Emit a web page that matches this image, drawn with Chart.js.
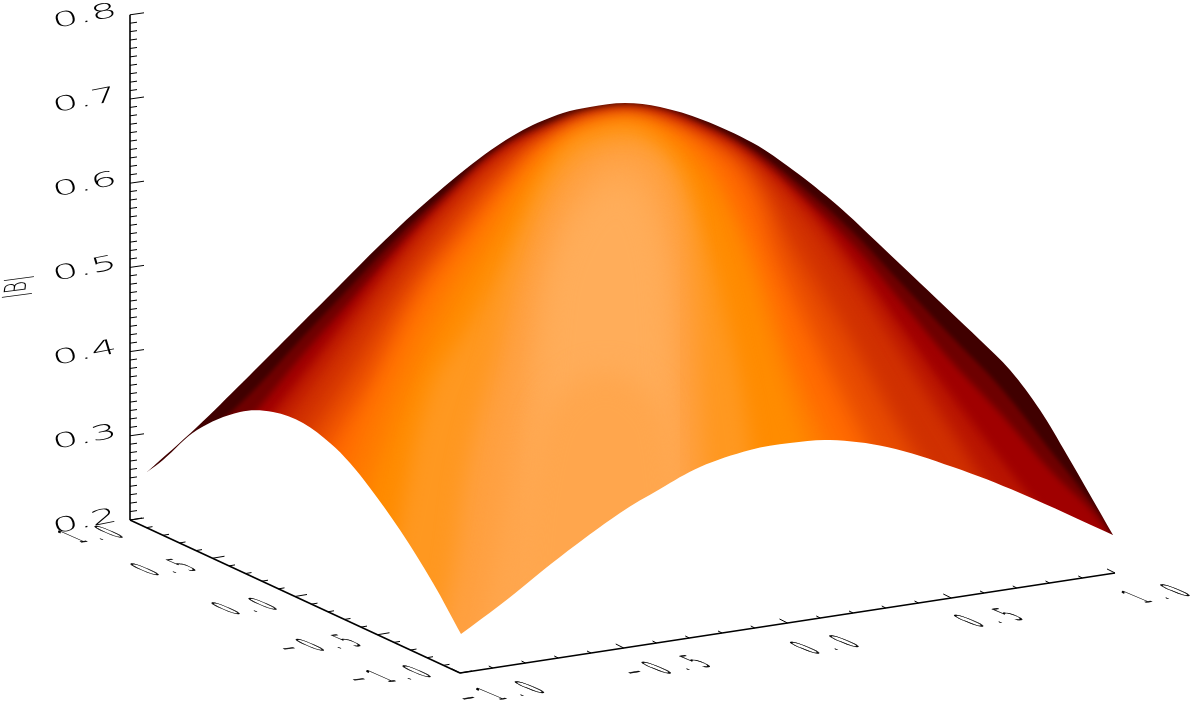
<!DOCTYPE html>
<html>
<head>
<meta charset="utf-8">
<title>|B|</title>
<script src="https://cdn.jsdelivr.net/npm/chart.js@4/dist/chart.umd.min.js"></script>
<style>
  html, body { margin: 0; padding: 0; background: #fff; }
  canvas { display: block; }
</style>
</head>
<body>
<canvas id="surfaceChart" width="1200" height="711"></canvas>
<script>
// axis labels
const zTicks = ['0.2', '0.3', '0.4', '0.5', '0.6', '0.7', '0.8'];
const floorLeftLabels = ['1.0', '0.5', '0.0', '\u22120.5', '\u22121.0'];
const floorRightLabels = ['\u22121.0', '\u22120.5', '0.0', '0.5', '1.0'];

// outline of the surface, x is the horizontal view position, y is |B|
const topEdgeX = [147, 197, 243, 290, 340, 380, 423, 480, 523, 563, 590, 625, 660, 703, 753, 793, 837, 880, 920, 980, 1010, 1040, 1067, 1113];
const topEdgeB = [.257, .3105, .3639, .4197, .4791, .5266, .5741, .6299, .6632, .6834, .6905, .6952, .6905, .6751, .6477, .6157, .5741, .5266, .4815, .4138, .3781, .3306, .2772, .1822];
const lowLeftX = [147, 163, 197, 240, 273, 303, 330, 350, 370, 400, 433, 461];
const lowLeftB = [.257, .2713, .3069, .3283, .3283, .3152, .2914, .2677, .238, .1881, .1252, .0646];
const lowRightX = [461, 500, 560, 620, 660, 700, 750, 790, 830, 887, 953, 1020, 1113];
const lowRightB = [.0646, .099, .1561, .2083, .2368, .2629, .2831, .2914, .295, .2867, .2629, .2321, .1822];

// shading contours
const gridX = [150, 200, 250, 300, 350, 400, 450, 500, 550, 600, 650, 700, 750, 800, 850, 900, 950, 1000, 1050, 1100, 1125];
const shade05 = [.2416, .295, .3496, .4138, .4767, .5397, .5931, .6418, .6715, .6893, .6905, .6715, .6418, .5979, .5456, .4827, .4197, .358, .2831, .2059, .1525];
const shade10 = [.2238, .2594, .3211, .3924, .4601, .5266, .5848, .6371, .6656, .6846, .6869, .6667, .6335, .586, .5314, .4613, .39, .3271, .2594, .1988, .1406];
const shade12 = [.1762, .2238, .295, .3686, .4435, .5171, .5812, .6347, .6632, .6822, .6834, .6632, .6311, .5789, .5112, .4316, .3508, .2724, .2, .1406, .105];
const shade15 = [.0812, .1762, .2653, .3449, .4257, .5064, .5765, .6323, .6608, .6798, .6798, .6584, .6276, .5705, .491, .4019, .3105, .2178, .1406, .0812, .0456];
const shade17 = [.0337, .105, .2036, .2903, .3781, .4708, .5504, .6157, .6561, .6774, .6762, .6525, .6133, .5147, .4138, .3069, .2119, .1287, .0575, -.0019, -.0138];
const shade20X = [290, 330, 370, 417, 463, 503, 547, 613, 670, 720, 753, 777, 820, 853, 900, 950, 1000, 1060];
const shade20 = [.2, .2914, .3663, .4696, .5409, .6002, .6513, .6786, .6679, .6394, .5919, .5124, .4019, .3223, .2119, .1169, .0456, -.0138];
const shade25X = [320, 350, 390, 430, 470, 510, 550, 613, 660, 705, 737, 765, 795, 825, 870, 920];
const shade25 = [.1762, .2713, .3758, .466, .5325, .5919, .6418, .6751, .6667, .6276, .5622, .485, .3841, .3069, .1881, -.0019];
const shade30X = [350, 370, 407, 450, 490, 527, 563, 613, 653, 693, 720, 747, 777, 800, 840, 900];
const shade30 = [.1822, .2392, .3544, .4577, .5325, .6038, .6477, .6715, .6667, .6276, .58, .5052, .3936, .3152, .1881, -.0019];
const shade35X = [370, 400, 430, 470, 513, 563, 613, 645, 680, 705, 722, 747, 775];
const shade35 = [-.0019, .2, .3544, .434, .5325, .6394, .6656, .6572, .6097, .5325, .4613, .3152, -.0019];
const shade40X = [420, 450, 470, 497, 523, 563, 613, 653, 680, 695, 700, 705, 720];
const shade40 = [-.0019, .1169, .2748, .3936, .5124, .6121, .6477, .6394, .5919, .4732, .3425, .2238, -.0019];
const shade45X = [470, 500, 525, 550, 580, 613, 645, 665, 675, 680, 690];
const shade45 = [-.0019, .2, .39, .5088, .5919, .6276, .6157, .5563, .4375, .2475, -.0019];
const shade50X = [520, 545, 565, 600, 630, 655, 668, 680];
const shade50 = [-.0019, .4494, .5385, .5919, .5979, .5504, .4494, -.0019];
const shade55X = [510, 540, 590, 640, 670, 690];
const shade55 = [-.0019, .3069, .3722, .3603, .3069, -.0019];

// outer contour first
const shadeBands = [
  [gridX, shade05], [gridX, shade10], [gridX, shade12], [gridX, shade15], [gridX, shade17],
  [shade20X, shade20], [shade25X, shade25], [shade30X, shade30], [shade35X, shade35],
  [shade40X, shade40], [shade45X, shade45], [shade50X, shade50], [shade55X, shade55]
];
const shadeColors = ['#6e0000', '#a00000', '#b81400', '#d03000', '#e84c00', '#ff6a00', '#ff7b00', '#ff8c00', '#ff9820', '#ffa040', '#ffa64d', '#ffad5a', '#ffa64d'];
const shadeBlur = [2, 3, 5, 8, 10, 10, 10, 10, 10, 11, 12, 14, 14];

function toPoints(xs, ys) {
  return xs.map((x, i) => ({ x: x, y: ys[i] }));
}

function edge(xs, ys, fill) {
  return { data: toPoints(xs, ys), fill: fill, backgroundColor: '#ffffff', borderWidth: 0, pointRadius: 0, tension: 0.35 };
}

function axisLine(xs, ys) {
  return { data: toPoints(xs, ys), fill: false, borderColor: '#000000', borderWidth: 1.6, pointRadius: 0, tension: 0, clip: false };
}

// floor corners: back, front, right
const floorX = [130, 460, 1115];
const floorB = [.2, .0183, .1371];

const datasets = [
  axisLine([130, 130], [.2, .8]),
  axisLine(floorX.slice(0, 2), floorB.slice(0, 2)),
  axisLine(floorX.slice(1), floorB.slice(1)),
  edge(topEdgeX, topEdgeB, 'end'),
  edge(lowLeftX, lowLeftB, 'start'),
  edge(lowRightX, lowRightB, 'start'),
  edge([132, 147], [-.03, -.03], 'end'),
  edge([1113, 1200], [-.03, -.03], 'end')
];
const firstBand = datasets.length;

// inner contours sit first, because the list is painted from the end
for (let i = shadeBands.length - 1; i >= 0; i--) {
  datasets.push({
    data: toPoints(shadeBands[i][0], shadeBands[i][1]), fill: 'start', backgroundColor: shadeColors[i],
    borderWidth: 0, pointRadius: 0, tension: 0.4
  });
}
datasets.push({
  data: toPoints([147, 1125], [.81, .81]), fill: 'start', backgroundColor: '#400000',
  borderWidth: 0, pointRadius: 0, tension: 0
});

// the plot font is a stretched vector font, so text goes through a matrix
function skewText(ctx, text, cx, cy, m, spacing, weight) {
  ctx.save();
  ctx.translate(cx, cy);
  ctx.transform(m[0], m[1], m[2], m[3], 0, 0);
  ctx.letterSpacing = spacing + 'px';
  ctx.font = '200 20px "DejaVu Sans"';
  ctx.fillStyle = '#000000';
  ctx.strokeStyle = '#000000';
  ctx.lineWidth = weight;
  ctx.textAlign = 'center';
  ctx.textBaseline = 'middle';
  ctx.fillText(text, 0, 0);
  if (weight > 0) ctx.strokeText(text, 0, 0);
  ctx.restore();
}

function segment(ctx, x0, y0, x1, y1) {
  ctx.moveTo(x0, y0);
  ctx.lineTo(x1, y1);
}

const surfaceBlur = {
  id: 'surfaceBlur',
  beforeDatasetsDraw(chart) {
    chart.ctx.filter = 'blur(2px)';
  },
  afterDatasetDraw(chart, args) {
    // the filler paints before this hook, so set the filter for the next one down
    const next = args.index - 1;
    if (next >= firstBand) {
      chart.ctx.filter = 'blur(' + shadeBlur[shadeBands.length - 1 - (next - firstBand)] + 'px)';
    } else {
      chart.ctx.filter = 'none';
    }
  }
};

const plotAxes = {
  id: 'plotAxes',
  afterDraw(chart) {
    const ctx = chart.ctx;
    const sx = chart.scales.x;
    const sy = chart.scales.y;
    const corner = floorX.map((x, i) => ({ x: sx.getPixelForValue(x), y: sy.getPixelForValue(floorB[i]) }));

    ctx.save();
    ctx.strokeStyle = '#000000';
    ctx.lineWidth = 1;
    ctx.beginPath();

    // |B| axis, a tick every 0.01
    for (let k = 0; k <= 60; k++) {
      const y = sy.getPixelForValue(.2 + k / 100);
      const major = k % 10 === 0;
      segment(ctx, 130, y, major ? 144 : 137, y - (major ? 2 : 1));
    }

    // floor axes, a tick every 0.1
    for (let k = 0; k <= 20; k++) {
      const t = k / 20;
      const major = k % 5 === 0;
      const ax = corner[0].x + (corner[1].x - corner[0].x) * t;
      const ay = corner[0].y + (corner[1].y - corner[0].y) * t;
      segment(ctx, ax, ay, ax + (major ? 12 : 6), ay - (major ? 2 : 1));
      const bx = corner[1].x + (corner[2].x - corner[1].x) * t;
      const by = corner[1].y + (corner[2].y - corner[1].y) * t;
      segment(ctx, bx, by, bx - (major ? 8 : 4), by - (major ? 4 : 2));
    }
    ctx.stroke();
    ctx.restore();

    zTicks.forEach(label => {
      skewText(ctx, label, 85, sy.getPixelForValue(parseFloat(label)) + 2, [2, -.4, .3, 1], 0, 0);
    });
    const leftPos = [[99, 535], [172, 568], [253, 607], [325, 645], [395, 676]];
    floorLeftLabels.forEach((label, i) => {
      skewText(ctx, label, leftPos[i][0], leftPos[i][1], [.8, -.1, 1.72, .76], 13.5, .5);
    });
    const rightPos = [[507, 693], [673, 667], [834, 645], [998, 618], [1165, 594]];
    floorRightLabels.forEach((label, i) => {
      skewText(ctx, label, rightPos[i][0], rightPos[i][1], [.8, -.13, 1.8, .76], 15, .5);
    });
    skewText(ctx, '|B|', 18, 287, [.1, -.85, 1.5, -.2], 0, 0);
  }
};

new Chart(document.getElementById('surfaceChart').getContext('2d'), {
  type: 'line',
  data: { datasets: datasets },
  options: {
    responsive: false,
    animation: false,
    parsing: { xAxisKey: 'x', yAxisKey: 'y' },
    layout: { padding: 0 },
    scales: {
      x: { type: 'linear', display: false, min: 0, max: 1200 },
      y: { type: 'linear', display: false, min: -.02684, max: .81758 }
    },
    plugins: {
      legend: { display: false },
      tooltip: { enabled: false },
      filler: { drawTime: 'beforeDatasetDraw' }
    }
  },
  plugins: [surfaceBlur, plotAxes]
});
</script>
</body>
</html>
